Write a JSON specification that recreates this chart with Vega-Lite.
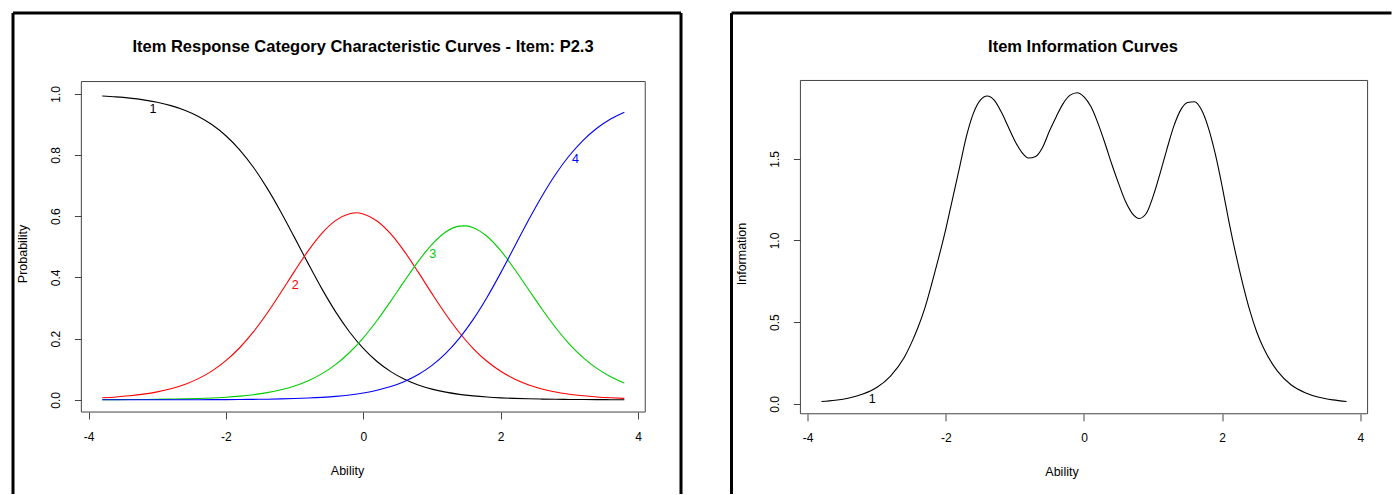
{
  "$schema": "https://vega.github.io/schema/vega-lite/v6.json",
  "background": "white",
  "padding": {"left": 11, "top": 11, "right": 0, "bottom": 0},
  "spacing": 46.5,
  "config": {
    "font": "Liberation Sans",
    "view": {"stroke": null},
    "axis": {"grid": false, "domain": false, "tickColor": "#444", "tickWidth": 1, "tickSize": 7, "labelColor": "#000", "labelFontSize": 12, "labelFlush": false, "labelOverlap": false, "labelBound": false, "titleColor": "#000", "titleFontSize": 12.5, "titleFontWeight": "normal"},
    "title": {"color": "#000"}
  },
  "datasets": {
    "icc": [
      {"theta": -3.8, "category": "1", "probability": 0.9929}, {"theta": -3.6, "category": "1", "probability": 0.99}, {"theta": -3.4, "category": "1", "probability": 0.9859}, {"theta": -3.2, "category": "1", "probability": 0.9802}, {"theta": -3.0, "category": "1", "probability": 0.9723}, {"theta": -2.8, "category": "1", "probability": 0.9614}, {"theta": -2.6, "category": "1", "probability": 0.9464}, {"theta": -2.4, "category": "1", "probability": 0.9261}, {"theta": -2.2, "category": "1", "probability": 0.8988}, {"theta": -2.0, "category": "1", "probability": 0.863}, {"theta": -1.8, "category": "1", "probability": 0.817}, {"theta": -1.6, "category": "1", "probability": 0.7599}, {"theta": -1.4, "category": "1", "probability": 0.6917}, {"theta": -1.2, "category": "1", "probability": 0.614}, {"theta": -1.0, "category": "1", "probability": 0.53}, {"theta": -0.8, "category": "1", "probability": 0.4442}, {"theta": -0.6, "category": "1", "probability": 0.3617}, {"theta": -0.4, "category": "1", "probability": 0.2866}, {"theta": -0.2, "category": "1", "probability": 0.2217}, {"theta": 0.0, "category": "1", "probability": 0.168}, {"theta": 0.2, "category": "1", "probability": 0.1252}, {"theta": 0.4, "category": "1", "probability": 0.0921}, {"theta": 0.6, "category": "1", "probability": 0.0671}, {"theta": 0.8, "category": "1", "probability": 0.0485}, {"theta": 1.0, "category": "1", "probability": 0.0349}, {"theta": 1.2, "category": "1", "probability": 0.025}, {"theta": 1.4, "category": "1", "probability": 0.0178}, {"theta": 1.6, "category": "1", "probability": 0.0127}, {"theta": 1.8, "category": "1", "probability": 0.009}, {"theta": 2.0, "category": "1", "probability": 0.0064}, {"theta": 2.2, "category": "1", "probability": 0.0046}, {"theta": 2.4, "category": "1", "probability": 0.0032}, {"theta": 2.6, "category": "1", "probability": 0.0023}, {"theta": 2.8, "category": "1", "probability": 0.0016}, {"theta": 3.0, "category": "1", "probability": 0.0012}, {"theta": 3.2, "category": "1", "probability": 0.0008}, {"theta": 3.4, "category": "1", "probability": 0.0006}, {"theta": 3.6, "category": "1", "probability": 0.0004}, {"theta": 3.8, "category": "1", "probability": 0.0003},
      {"theta": -3.8, "category": "2", "probability": 0.0067}, {"theta": -3.6, "category": "2", "probability": 0.0094}, {"theta": -3.4, "category": "2", "probability": 0.0133}, {"theta": -3.2, "category": "2", "probability": 0.0186}, {"theta": -3.0, "category": "2", "probability": 0.026}, {"theta": -2.8, "category": "2", "probability": 0.0363}, {"theta": -2.6, "category": "2", "probability": 0.0503}, {"theta": -2.4, "category": "2", "probability": 0.0692}, {"theta": -2.2, "category": "2", "probability": 0.0946}, {"theta": -2.0, "category": "2", "probability": 0.1278}, {"theta": -1.8, "category": "2", "probability": 0.1701}, {"theta": -1.6, "category": "2", "probability": 0.2219}, {"theta": -1.4, "category": "2", "probability": 0.2829}, {"theta": -1.2, "category": "2", "probability": 0.3505}, {"theta": -1.0, "category": "2", "probability": 0.4206}, {"theta": -0.8, "category": "2", "probability": 0.4875}, {"theta": -0.6, "category": "2", "probability": 0.5447}, {"theta": -0.4, "category": "2", "probability": 0.5862}, {"theta": -0.2, "category": "2", "probability": 0.6078}, {"theta": -0.1, "category": "2", "probability": 0.6115}, {"theta": 0.0, "category": "2", "probability": 0.6072}, {"theta": 0.2, "category": "2", "probability": 0.5845}, {"theta": 0.4, "category": "2", "probability": 0.542}, {"theta": 0.6, "category": "2", "probability": 0.4842}, {"theta": 0.8, "category": "2", "probability": 0.4171}, {"theta": 1.0, "category": "2", "probability": 0.3469}, {"theta": 1.2, "category": "2", "probability": 0.2795}, {"theta": 1.4, "category": "2", "probability": 0.2191}, {"theta": 1.6, "category": "2", "probability": 0.1676}, {"theta": 1.8, "category": "2", "probability": 0.1259}, {"theta": 2.0, "category": "2", "probability": 0.0932}, {"theta": 2.2, "category": "2", "probability": 0.0681}, {"theta": 2.4, "category": "2", "probability": 0.0495}, {"theta": 2.6, "category": "2", "probability": 0.0356}, {"theta": 2.8, "category": "2", "probability": 0.0256}, {"theta": 3.0, "category": "2", "probability": 0.0182}, {"theta": 3.2, "category": "2", "probability": 0.013}, {"theta": 3.4, "category": "2", "probability": 0.0093}, {"theta": 3.6, "category": "2", "probability": 0.0066}, {"theta": 3.8, "category": "2", "probability": 0.0047},
      {"theta": -3.8, "category": "3", "probability": 0.0004}, {"theta": -3.6, "category": "3", "probability": 0.0006}, {"theta": -3.4, "category": "3", "probability": 0.0008}, {"theta": -3.2, "category": "3", "probability": 0.0011}, {"theta": -3.0, "category": "3", "probability": 0.0015}, {"theta": -2.8, "category": "3", "probability": 0.0022}, {"theta": -2.6, "category": "3", "probability": 0.003}, {"theta": -2.4, "category": "3", "probability": 0.0043}, {"theta": -2.2, "category": "3", "probability": 0.006}, {"theta": -2.0, "category": "3", "probability": 0.0085}, {"theta": -1.8, "category": "3", "probability": 0.0119}, {"theta": -1.6, "category": "3", "probability": 0.0167}, {"theta": -1.4, "category": "3", "probability": 0.0234}, {"theta": -1.2, "category": "3", "probability": 0.0326}, {"theta": -1.0, "category": "3", "probability": 0.0453}, {"theta": -0.8, "category": "3", "probability": 0.0626}, {"theta": -0.6, "category": "3", "probability": 0.0856}, {"theta": -0.4, "category": "3", "probability": 0.1159}, {"theta": -0.2, "category": "3", "probability": 0.1546}, {"theta": 0.0, "category": "3", "probability": 0.2026}, {"theta": 0.2, "category": "3", "probability": 0.2592}, {"theta": 0.4, "category": "3", "probability": 0.3226}, {"theta": 0.6, "category": "3", "probability": 0.3887}, {"theta": 0.8, "category": "3", "probability": 0.4525}, {"theta": 1.0, "category": "3", "probability": 0.508}, {"theta": 1.2, "category": "3", "probability": 0.5485}, {"theta": 1.4, "category": "3", "probability": 0.5675}, {"theta": 1.5, "category": "3", "probability": 0.5685}, {"theta": 1.6, "category": "3", "probability": 0.5625}, {"theta": 1.8, "category": "3", "probability": 0.5345}, {"theta": 2.0, "category": "3", "probability": 0.4875}, {"theta": 2.2, "category": "3", "probability": 0.4273}, {"theta": 2.4, "category": "3", "probability": 0.3621}, {"theta": 2.6, "category": "3", "probability": 0.2966}, {"theta": 2.8, "category": "3", "probability": 0.2355}, {"theta": 3.0, "category": "3", "probability": 0.1823}, {"theta": 3.2, "category": "3", "probability": 0.1381}, {"theta": 3.4, "category": "3", "probability": 0.1027}, {"theta": 3.6, "category": "3", "probability": 0.0756}, {"theta": 3.8, "category": "3", "probability": 0.055},
      {"theta": -3.8, "category": "4", "probability": 0.0}, {"theta": -3.6, "category": "4", "probability": 0.0}, {"theta": -3.4, "category": "4", "probability": 0.0001}, {"theta": -3.2, "category": "4", "probability": 0.0001}, {"theta": -3.0, "category": "4", "probability": 0.0001}, {"theta": -2.8, "category": "4", "probability": 0.0002}, {"theta": -2.6, "category": "4", "probability": 0.0003}, {"theta": -2.4, "category": "4", "probability": 0.0004}, {"theta": -2.2, "category": "4", "probability": 0.0005}, {"theta": -2.0, "category": "4", "probability": 0.0007}, {"theta": -1.8, "category": "4", "probability": 0.001}, {"theta": -1.6, "category": "4", "probability": 0.0015}, {"theta": -1.4, "category": "4", "probability": 0.002}, {"theta": -1.2, "category": "4", "probability": 0.0029}, {"theta": -1.0, "category": "4", "probability": 0.0041}, {"theta": -0.8, "category": "4", "probability": 0.0057}, {"theta": -0.6, "category": "4", "probability": 0.008}, {"theta": -0.4, "category": "4", "probability": 0.0113}, {"theta": -0.2, "category": "4", "probability": 0.0159}, {"theta": 0.0, "category": "4", "probability": 0.0222}, {"theta": 0.2, "category": "4", "probability": 0.0311}, {"theta": 0.4, "category": "4", "probability": 0.0433}, {"theta": 0.6, "category": "4", "probability": 0.06}, {"theta": 0.8, "category": "4", "probability": 0.0826}, {"theta": 1.0, "category": "4", "probability": 0.1126}, {"theta": 1.2, "category": "4", "probability": 0.1519}, {"theta": 1.4, "category": "4", "probability": 0.2017}, {"theta": 1.6, "category": "4", "probability": 0.2627}, {"theta": 1.8, "category": "4", "probability": 0.3345}, {"theta": 2.0, "category": "4", "probability": 0.4148}, {"theta": 2.2, "category": "4", "probability": 0.5}, {"theta": 2.4, "category": "4", "probability": 0.5852}, {"theta": 2.6, "category": "4", "probability": 0.6655}, {"theta": 2.8, "category": "4", "probability": 0.7373}, {"theta": 3.0, "category": "4", "probability": 0.7983}, {"theta": 3.2, "category": "4", "probability": 0.8481}, {"theta": 3.4, "category": "4", "probability": 0.8874}, {"theta": 3.6, "category": "4", "probability": 0.9174}, {"theta": 3.8, "category": "4", "probability": 0.94}
    ],
    "icc_labels": [
      {"theta": -3.06, "probability": 0.951, "category": "1"},
      {"theta": -0.99, "probability": 0.376, "category": "2"},
      {"theta": 1.01, "probability": 0.477, "category": "3"},
      {"theta": 3.09, "probability": 0.788, "category": "4"}
    ],
    "info": [
      {"theta": -3.8, "information": 0.014}, {"theta": -3.6, "information": 0.022}, {"theta": -3.4, "information": 0.036}, {"theta": -3.2, "information": 0.06}, {"theta": -3.0, "information": 0.1}, {"theta": -2.8, "information": 0.17}, {"theta": -2.6, "information": 0.285}, {"theta": -2.5, "information": 0.37}, {"theta": -2.4, "information": 0.47}, {"theta": -2.3, "information": 0.59}, {"theta": -2.2, "information": 0.74}, {"theta": -2.1, "information": 0.9}, {"theta": -2.0, "information": 1.07}, {"theta": -1.9, "information": 1.26}, {"theta": -1.8, "information": 1.45}, {"theta": -1.7, "information": 1.64}, {"theta": -1.6, "information": 1.78}, {"theta": -1.5, "information": 1.86}, {"theta": -1.4, "information": 1.885}, {"theta": -1.3, "information": 1.86}, {"theta": -1.2, "information": 1.79}, {"theta": -1.1, "information": 1.7}, {"theta": -1.0, "information": 1.61}, {"theta": -0.9, "information": 1.54}, {"theta": -0.8, "information": 1.505}, {"theta": -0.7, "information": 1.515}, {"theta": -0.6, "information": 1.57}, {"theta": -0.5, "information": 1.67}, {"theta": -0.4, "information": 1.76}, {"theta": -0.3, "information": 1.84}, {"theta": -0.2, "information": 1.89}, {"theta": -0.1, "information": 1.905}, {"theta": 0.0, "information": 1.88}, {"theta": 0.1, "information": 1.82}, {"theta": 0.2, "information": 1.72}, {"theta": 0.3, "information": 1.6}, {"theta": 0.4, "information": 1.47}, {"theta": 0.5, "information": 1.35}, {"theta": 0.6, "information": 1.24}, {"theta": 0.7, "information": 1.165}, {"theta": 0.8, "information": 1.135}, {"theta": 0.9, "information": 1.165}, {"theta": 1.0, "information": 1.27}, {"theta": 1.1, "information": 1.41}, {"theta": 1.2, "information": 1.56}, {"theta": 1.3, "information": 1.7}, {"theta": 1.4, "information": 1.8}, {"theta": 1.5, "information": 1.845}, {"theta": 1.6, "information": 1.85}, {"theta": 1.7, "information": 1.8}, {"theta": 1.8, "information": 1.69}, {"theta": 1.9, "information": 1.53}, {"theta": 2.0, "information": 1.33}, {"theta": 2.1, "information": 1.11}, {"theta": 2.2, "information": 0.91}, {"theta": 2.3, "information": 0.73}, {"theta": 2.4, "information": 0.57}, {"theta": 2.5, "information": 0.44}, {"theta": 2.6, "information": 0.34}, {"theta": 2.8, "information": 0.2}, {"theta": 3.0, "information": 0.115}, {"theta": 3.2, "information": 0.068}, {"theta": 3.4, "information": 0.04}, {"theta": 3.6, "information": 0.024}, {"theta": 3.8, "information": 0.014}
    ],
    "info_labels": [
      {"theta": -3.065, "information": 0.031, "item": "1"}
    ]
  },
  "hconcat": [
    {
      "width": 668,
      "height": 481,
      "title": {"text": "Item Response Category Characteristic Curves - Item: P2.3", "frame": "group", "anchor": "middle", "offset": -44, "dx": 16, "fontSize": 16.5, "fontWeight": "bold"},
      "layer": [
        {
          "data": {"name": "icc"},
          "mark": {"type": "line", "interpolate": "monotone", "strokeWidth": 1.1},
          "encoding": {
            "x": {"field": "theta", "type": "quantitative", "scale": {"domain": [-5.099, 4.6245], "nice": false, "zero": false},
                  "axis": {"values": [-4, -2, 0, 2, 4], "offset": -82, "labelExpr": "'' + datum.value", "labelPadding": 12, "title": "Ability", "titlePadding": 22}},
            "y": {"field": "probability", "type": "quantitative", "scale": {"domain": [-0.30784, 1.26405], "nice": false, "zero": false},
                  "axis": {"values": [0, 0.2, 0.4, 0.6, 0.8, 1.0], "offset": -68.4, "format": ".1f", "labelAngle": -90, "labelPadding": 12, "title": "Probability", "titlePadding": 20}},
            "color": {"field": "category", "type": "nominal", "scale": {"domain": ["1", "2", "3", "4"], "range": ["#000000", "#FF0000", "#00CD00", "#0000FF"]}, "legend": null},
            "order": {"field": "theta", "type": "quantitative"}
          }
        },
        {
          "data": {"values": [{}]},
          "mark": {"type": "rule", "color": "#000", "strokeWidth": 3},
          "encoding": {"x": {"datum": -5.099, "type": "quantitative"}}
        },
        {
          "data": {"values": [{}]},
          "mark": {"type": "rule", "color": "#000", "strokeWidth": 3},
          "encoding": {"x": {"datum": 4.6245, "type": "quantitative"}}
        },
        {
          "data": {"values": [{}]},
          "mark": {"type": "rule", "color": "#000", "strokeWidth": 3},
          "encoding": {"y": {"datum": 1.26405, "type": "quantitative"}}
        },
        {
          "data": {"values": [{}]},
          "mark": {"type": "rect", "filled": false, "stroke": "#444", "strokeWidth": 1},
          "encoding": {
            "x": {"datum": -4.104, "type": "quantitative"},
            "x2": {"datum": 4.104},
            "y": {"datum": -0.04, "type": "quantitative"},
            "y2": {"datum": 1.04}
          }
        },
        {
          "data": {"name": "icc_labels"},
          "mark": {"type": "text", "fontSize": 12.5, "align": "center", "baseline": "middle"},
          "encoding": {
            "x": {"field": "theta", "type": "quantitative"},
            "y": {"field": "probability", "type": "quantitative"},
            "text": {"field": "category"},
            "color": {"field": "category", "type": "nominal"}
          }
        }
      ]
    },
    {
      "width": 660,
      "height": 481,
      "title": {"text": "Item Information Curves", "frame": "group", "anchor": "middle", "offset": -44, "dx": 21.5, "fontSize": 16.5, "fontWeight": "bold"},
      "layer": [
        {
          "data": {"name": "info"},
          "mark": {"type": "line", "interpolate": "monotone", "strokeWidth": 1.1, "color": "#000"},
          "encoding": {
            "x": {"field": "theta", "type": "quantitative", "scale": {"domain": [-5.1013, 4.4501], "nice": false, "zero": false},
                  "axis": {"values": [-4, -2, 0, 2, 4], "offset": -80.2, "labelExpr": "'' + datum.value", "labelPadding": 12, "title": "Ability", "titlePadding": 22}},
            "y": {"field": "information", "type": "quantitative", "scale": {"domain": [-0.55236, 2.39314], "nice": false, "zero": false},
                  "axis": {"values": [0, 0.5, 1.0, 1.5], "offset": -68.9, "format": ".1f", "labelAngle": -90, "labelPadding": 12, "title": "Information", "titlePadding": 20}},
            "order": {"field": "theta", "type": "quantitative"}
          }
        },
        {
          "data": {"values": [{}]},
          "mark": {"type": "rule", "color": "#000", "strokeWidth": 3},
          "encoding": {"x": {"datum": -5.1013, "type": "quantitative"}}
        },
        {
          "data": {"values": [{}]},
          "mark": {"type": "rule", "color": "#000", "strokeWidth": 3},
          "encoding": {"y": {"datum": 2.39314, "type": "quantitative"}}
        },
        {
          "data": {"values": [{}]},
          "mark": {"type": "rect", "filled": false, "stroke": "#444", "strokeWidth": 1},
          "encoding": {
            "x": {"datum": -4.104, "type": "quantitative"},
            "x2": {"datum": 4.104},
            "y": {"datum": -0.061, "type": "quantitative"},
            "y2": {"datum": 1.98}
          }
        },
        {
          "data": {"name": "info_labels"},
          "mark": {"type": "text", "fontSize": 12.5, "align": "center", "baseline": "middle", "color": "#000"},
          "encoding": {
            "x": {"field": "theta", "type": "quantitative"},
            "y": {"field": "information", "type": "quantitative"},
            "text": {"field": "item"}
          }
        }
      ]
    }
  ]
}
